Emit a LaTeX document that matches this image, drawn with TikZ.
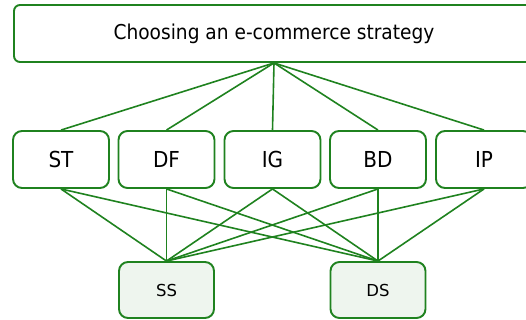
\documentclass[tikz,border=0pt]{standalone}
\usepackage{fontspec}
\setmainfont{DejaVu Sans}
\definecolor{edgegreen}{HTML}{1F821F}
\definecolor{leaf}{HTML}{EEF5EE}
\newcommand{\tallr}[1]{\scalebox{1}[1.1]{#1}}
\begin{document}
\begin{tikzpicture}[x=1pt,y=-1pt,
  box/.style={draw=edgegreen,line width=1.9pt,rounded corners=9pt,fill=white,inner sep=0pt,
    minimum width=96pt,minimum height=57pt,font=\fontsize{20}{24}\selectfont},
  leafbox/.style={box,fill=leaf,minimum width=95pt,minimum height=56pt,font=\fontsize{16.5}{19}\selectfont},
  topbox/.style={box,rounded corners=6pt,minimum width=520pt,font=\fontsize{18.6}{22}\selectfont},
  link/.style={draw=edgegreen,line width=1.6pt}]
\useasboundingbox (0,0) rectangle (526,320);
\clip (0,0) rectangle (526,320);
\node[topbox] (top) at (274,33.5) {\tallr{Choosing an e-commerce strategy}};
\node[box] (st) at (61,159.5) {\tallr{ST}};
\node[box] (df) at (166.5,159.5) {\tallr{DF}};
\node[box] (ig) at (272.5,159.5) {\tallr{IG}};
\node[box] (bd) at (378,159.5) {\tallr{BD}};
\node[box] (ip) at (484,159.5) {\tallr{IP}};
\node[leafbox] (ss) at (166.5,290) {SS};
\node[leafbox] (ds) at (378,290) {DS};
\foreach \m in {st,df,ig,bd,ip}{
  \draw[link] (top.south) -- (\m.north);
  \draw[link] (\m.south) -- (ss.north);
  \draw[link] (\m.south) -- (ds.north);
}
\end{tikzpicture}
\end{document}
